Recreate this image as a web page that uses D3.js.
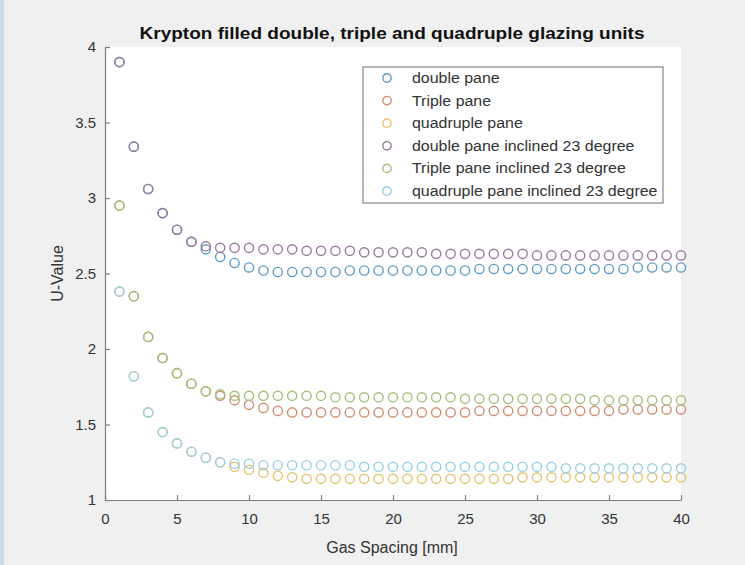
<!DOCTYPE html>
<html lang="en">
<head>
<meta charset="UTF-8">
<title>Krypton glazing</title>
<script src="https://d3js.org/d3.v7.min.js"></script>
<style>
  body { margin: 0; background: #f0f0f0; }
  svg { display: block; font-family: "Liberation Sans", Arial, Helvetica, sans-serif; }
</style>
</head>
<body>
<div id="chart"></div>
<script>
// gas spacing in mm
var spacing = d3.range(1, 41);

var doublePane = [3.90, 3.34, 3.06, 2.90, 2.79, 2.71, 2.66, 2.61, 2.57, 2.54,
                  2.52, 2.51, 2.51, 2.51, 2.51, 2.51, 2.52, 2.52, 2.52, 2.52,
                  2.52, 2.52, 2.52, 2.52, 2.52, 2.53, 2.53, 2.53, 2.53, 2.53,
                  2.53, 2.53, 2.53, 2.53, 2.53, 2.53, 2.54, 2.54, 2.54, 2.54];
var triplePane = [2.95, 2.35, 2.08, 1.94, 1.84, 1.77, 1.72, 1.69, 1.66, 1.63,
                  1.61, 1.59, 1.58, 1.58, 1.58, 1.58, 1.58, 1.58, 1.58, 1.58,
                  1.58, 1.58, 1.58, 1.58, 1.58, 1.59, 1.59, 1.59, 1.59, 1.59,
                  1.59, 1.59, 1.59, 1.59, 1.59, 1.60, 1.60, 1.60, 1.60, 1.60];
var quadPane = [2.38, 1.82, 1.58, 1.45, 1.375, 1.32, 1.28, 1.25, 1.22, 1.20,
                1.18, 1.16, 1.15, 1.14, 1.14, 1.14, 1.14, 1.14, 1.14, 1.14,
                1.14, 1.14, 1.14, 1.14, 1.14, 1.14, 1.14, 1.14, 1.15, 1.15,
                1.15, 1.15, 1.15, 1.15, 1.15, 1.15, 1.15, 1.15, 1.15, 1.15];
var doubleIncl = [3.90, 3.34, 3.06, 2.90, 2.79, 2.71, 2.68, 2.67, 2.67, 2.67,
                  2.66, 2.66, 2.66, 2.65, 2.65, 2.65, 2.65, 2.64, 2.64, 2.64,
                  2.64, 2.64, 2.63, 2.63, 2.63, 2.63, 2.63, 2.63, 2.63, 2.62,
                  2.62, 2.62, 2.62, 2.62, 2.62, 2.62, 2.62, 2.62, 2.62, 2.62];
var tripleIncl = [2.95, 2.35, 2.08, 1.94, 1.84, 1.77, 1.72, 1.70, 1.69, 1.69,
                  1.69, 1.69, 1.69, 1.69, 1.69, 1.68, 1.68, 1.68, 1.68, 1.68,
                  1.68, 1.68, 1.68, 1.68, 1.67, 1.67, 1.67, 1.67, 1.67, 1.67,
                  1.67, 1.67, 1.67, 1.66, 1.66, 1.66, 1.66, 1.66, 1.66, 1.66];
var quadIncl = [2.38, 1.82, 1.58, 1.45, 1.375, 1.32, 1.28, 1.25, 1.24, 1.24,
                1.23, 1.23, 1.23, 1.23, 1.23, 1.23, 1.23, 1.22, 1.22, 1.22,
                1.22, 1.22, 1.22, 1.22, 1.22, 1.22, 1.22, 1.22, 1.22, 1.22,
                1.22, 1.21, 1.21, 1.21, 1.21, 1.21, 1.21, 1.21, 1.21, 1.21];

var seriesNames = ["double pane", "Triple pane", "quadruple pane",
                   "double pane inclined 23 degree", "Triple pane inclined 23 degree",
                   "quadruple pane inclined 23 degree"];
var seriesValues = [doublePane, triplePane, quadPane, doubleIncl, tripleIncl, quadIncl];
// washed out matlab default colours
var seriesColors = ["#5f9cc4", "#cf8f73", "#e6c46e", "#9a7ca0", "#a8bf7f", "#97d0e8"];

var xTicks = [0, 5, 10, 15, 20, 25, 30, 35, 40];
var yTicks = [1, 1.5, 2, 2.5, 3, 3.5, 4];

var W = 745, H = 565;
var margin = {top: 47, right: 64, bottom: 65, left: 105};
var width = W - margin.left - margin.right,
    height = H - margin.top - margin.bottom;

var svg = d3.select("#chart").append("svg")
    .attr("width", W)
    .attr("height", H);

// figure background and left frame strip
svg.append("rect").attr("width", W).attr("height", H).attr("fill", "#f0f0f0");
svg.append("rect").attr("width", 4).attr("height", H).attr("fill", "#c9dcea");

var g = svg.append("g")
    .attr("transform", `translate(${margin.left},${margin.top})`);

g.append("rect")
    .attr("width", width)
    .attr("height", height)
    .attr("fill", "#ffffff");

var x = d3.scaleLinear().domain([0, 40]).range([0, width]);
var y = d3.scaleLinear().domain([1, 4]).range([height, 0]);

// axes, ticks pointing inwards like matlab
var xAxis = d3.axisBottom(x).tickValues(xTicks).tickSizeInner(-5).tickSizeOuter(0).tickPadding(13);
var yAxis = d3.axisLeft(y).tickValues(yTicks).tickSizeInner(-5).tickSizeOuter(0).tickPadding(9)
    .tickFormat(d3.format("~g"));

var gx = g.append("g")
    .attr("transform", `translate(0,${height})`)
    .call(xAxis);
var gy = g.append("g").call(yAxis);

[gx, gy].forEach(function (a) {
    a.selectAll("path, line").attr("stroke", "#7f7f7f").attr("stroke-width", 1.2);
    a.selectAll("text").attr("fill", "#333").style("font-size", "15px")
        .style("font-family", "'Liberation Sans', Arial, sans-serif");
});

// markers
seriesValues.forEach(function (vals, i) {
    g.append("g")
        .selectAll("circle")
        .data(vals)
        .join("circle")
        .attr("cx", function (d, j) { return x(spacing[j]); })
        .attr("cy", function (d) { return y(d); })
        .attr("r", 4.6)
        .attr("fill", "none")
        .attr("stroke", seriesColors[i])
        .attr("stroke-width", 1.4);
});

// title and labels
svg.append("text")
    .attr("x", 392)
    .attr("y", 39)
    .attr("text-anchor", "middle")
    .style("font-size", "17px")
    .style("font-weight", "bold")
    .attr("fill", "#111")
    .attr("textLength", 505)
    .attr("lengthAdjust", "spacingAndGlyphs")
    .text("Krypton filled double, triple and quadruple glazing units");

svg.append("text")
    .attr("x", 392)
    .attr("y", 553)
    .attr("text-anchor", "middle")
    .style("font-size", "16px")
    .attr("fill", "#333")
    .text("Gas Spacing [mm]");

svg.append("text")
    .attr("transform", `translate(63,${margin.top + height / 2}) rotate(-90)`)
    .attr("text-anchor", "middle")
    .style("font-size", "16px")
    .attr("fill", "#333")
    .text("U-Value");

// legend
var legend = svg.append("g").attr("transform", "translate(363,67)");
legend.append("rect")
    .attr("width", 300)
    .attr("height", 136)
    .attr("fill", "#fff")
    .attr("stroke", "#6f6f6f")
    .attr("stroke-width", 1);

var rows = legend.selectAll("g.row")
    .data(seriesNames)
    .join("g")
    .attr("class", "row")
    .attr("transform", function (d, i) { return `translate(0,${11 + i * 22.6})`; });

rows.append("circle")
    .attr("cx", 24)
    .attr("r", 4.2)
    .attr("fill", "none")
    .attr("stroke", function (d, i) { return seriesColors[i]; })
    .attr("stroke-width", 1.4);

rows.append("text")
    .attr("x", 44.5)
    .attr("dy", "0.35em")
    .attr("transform", "scale(1.1,1)")
    .style("font-size", "14.5px")
    .attr("fill", "#333")
    .text(function (d) { return d; });
</script>
</body>
</html>
